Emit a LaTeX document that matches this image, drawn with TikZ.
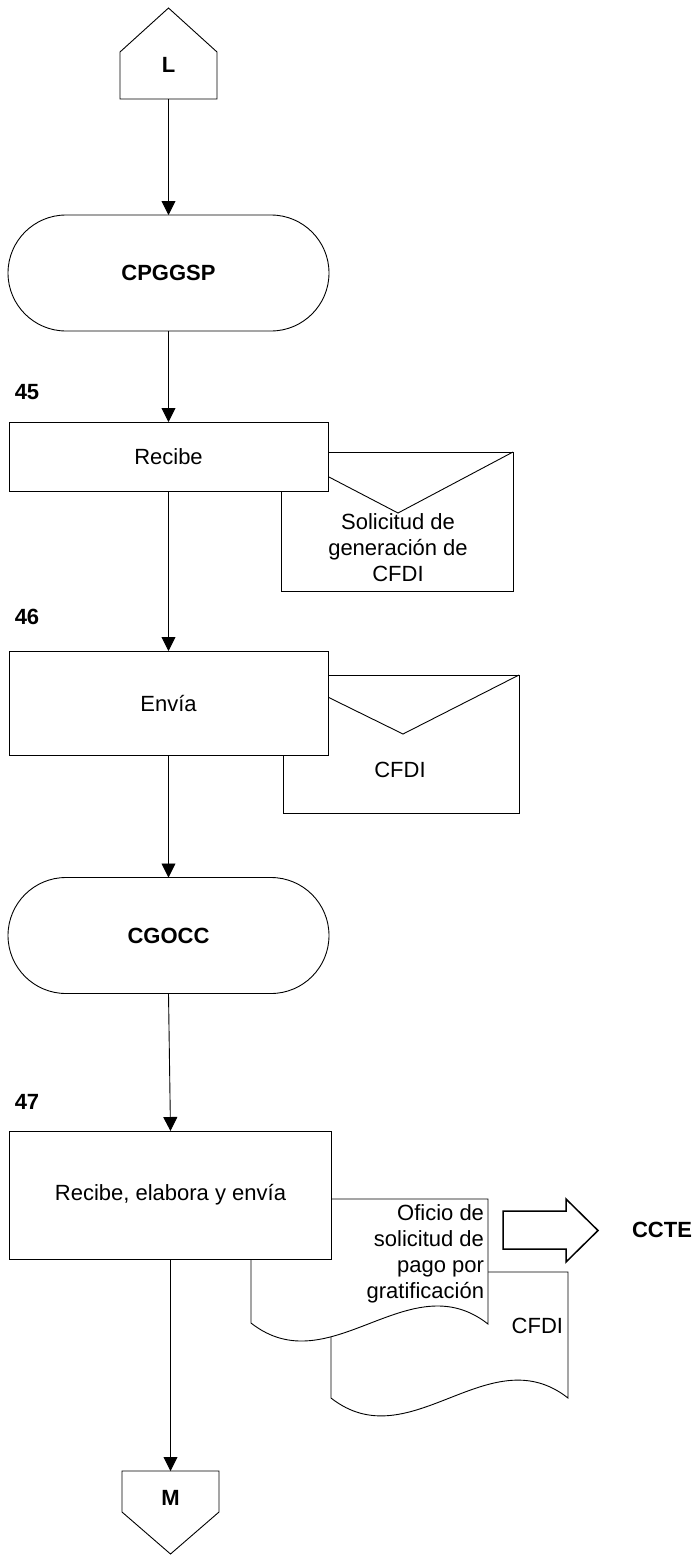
\documentclass[tikz,border=0pt]{standalone}
\usepackage{fontspec}
\setmainfont{Liberation Sans}
\usetikzlibrary{arrows.meta,shapes.misc}
\begin{document}
\begin{tikzpicture}[x=1pt,y=-1pt,
  every node/.style={font=\fontsize{22}{26}\selectfont, inner sep=0pt, outer sep=0pt},
  line/.style={line width=0.9pt, draw=black},
  flow/.style={line, -{Triangle[length=14pt,width=14pt]}},
  procbox/.style={draw, line width=0.9pt, fill=white, minimum width=319pt},
  envbox/.style={draw, line width=0.9pt, fill=white},
  term/.style={rounded rectangle, draw, line width=0.9pt, fill=white,
    minimum width=321pt, minimum height=116pt, font=\fontsize{22}{26}\selectfont\bfseries},
  conn/.style={minimum width=97pt},
  boldtxt/.style={font=\fontsize{22}{26}\selectfont\bfseries}
]
\useasboundingbox (0,0) rectangle (697,1555);

% off-page connector at the top
\node[conn, minimum height=47pt] (L) at (168.5,75.5) {};
\draw[line] (L.south west) -- (L.north west) -- (168.5,8) -- (L.north east) -- (L.south east) -- cycle;
\node[boldtxt] (Ltxt) at (168.5,65) {L};

% first terminal
\node[term] (cpg) at (168.5,273) {CPGGSP};
\draw[flow] (L.south) -- (cpg.north);

% step 45
\node[boldtxt] (n45) at (27,392) {45};
\node[envbox, minimum width=232pt, minimum height=139pt] (env1) at (397,521.5) {};
\draw[line] (env1.north west) -- (398,513) -- (env1.north east);
\node[align=center] (env1t) at (398,548) {Solicitud de\\generación de\\CFDI};
\node[procbox, minimum height=69pt] (p45) at (168.5,456.5) {Recibe};
\draw[flow] (cpg.south) -- (p45.north);

% step 46
\node[boldtxt] (n46) at (27,617) {46};
\node[envbox, minimum width=236pt, minimum height=138pt] (env2) at (401,744) {};
\draw[line] (env2.north west) -- (403,734) -- (env2.north east);
\node (env2t) at (400,770) {CFDI};
\node[procbox, minimum height=104pt] (p46) at (168.5,703) {Envía};
\draw[flow] (p45.south) -- (p46.north);

% second terminal
\node[term] (cgo) at (168.5,935.5) {CGOCC};
\draw[flow] (p46.south) -- (cgo.north);

% step 47
\node[boldtxt] (n47) at (27,1102) {47};

% documents
\draw[line, fill=white] (331,1272) coordinate (d2nw) -- (568,1272) -- (568,1398)
  .. controls (489,1336) and (410,1460) .. (331,1398) -- cycle;
\node[anchor=east] (d2t) at (563,1326) {CFDI};
\draw[line, fill=white] (251,1199) coordinate (d1nw) -- (488,1199) -- (488,1324)
  .. controls (409,1262) and (330,1385) .. (251,1323) -- cycle;
\node[align=right, anchor=east] (d1t) at (484,1254) {Oficio de\\solicitud de\\pago por\\gratificación};

% block arrow towards CCTE
\draw[line width=1.5pt, fill=white] (503,1211) coordinate (ba) -- (566,1211) -- (566,1199) -- (598,1230.5)
  -- (566,1262) -- (566,1249) -- (503,1249) -- cycle;
\node[boldtxt] (ccte) at (662,1230) {CCTE};

\node[procbox, minimum width=322pt, minimum height=128pt] (p47) at (170.5,1195) {Recibe, elabora y envía};
\draw[flow] (cgo.south) -- (p47.north);

% off-page connector at the bottom
\node[conn, minimum height=41pt] (M) at (170.5,1491.5) {};
\draw[line] (M.north west) -- (M.north east) -- (M.south east) -- (170.5,1554) -- (M.south west) -- cycle;
\node[boldtxt] (Mtxt) at (170.5,1498) {M};
\draw[flow] (p47.south) -- (M.north);
\end{tikzpicture}
\end{document}
